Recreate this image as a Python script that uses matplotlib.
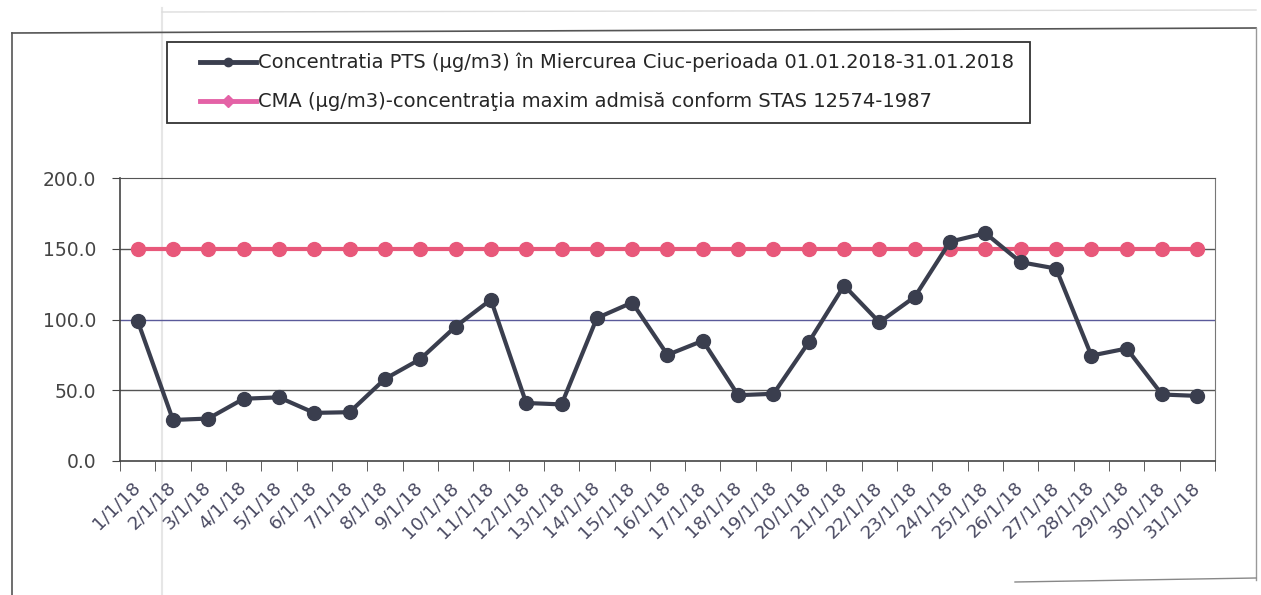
import matplotlib
matplotlib.use("Agg")
import matplotlib.pyplot as plt
from matplotlib.lines import Line2D
from matplotlib.patches import Rectangle
import numpy as np

plt.rcParams['font.family'] = ['DejaVu Sans']

days = [f"{d}/1/18" for d in range(1, 32)]
pts = [99, 29, 30, 44, 45, 34, 34.5, 58, 72, 95, 114, 41, 40, 101, 112,
       75, 85, 46.5, 47.5, 84, 124, 98, 116, 155, 161, 140.5, 136, 74.5, 79.5, 47, 46]
cma = [150] * 31
yticks = [0, 50, 100, 150, 200]
label_pts = "Concentratia PTS (µg/m3) în Miercurea Ciuc-perioada 01.01.2018-31.01.2018"
label_cma = "CMA (µg/m3)-concentraţia maxim admisă conform STAS 12574-1987"

W, H = 1261, 595
fig = plt.figure(figsize=(W / 100, H / 100), dpi=100)
fig.patch.set_facecolor('white')


def fx(px):
    return px / W


def fy(py):
    return 1 - py / H


# outer chart border
fig.add_artist(Line2D([fx(12), fx(12)], [0, fy(33)], color='#555555', lw=1.2))
fig.add_artist(Line2D([fx(12), fx(1256)], [fy(33), fy(28)], color='#555555', lw=1.2))
fig.add_artist(Line2D([fx(1256), fx(1256)], [fy(28), fy(580)], color='#999999', lw=1.0))
fig.add_artist(Line2D([fx(1015), fx(1256)], [fy(582), fy(578)], color='#888888', lw=1.0))
# faint scan edge (behind everything)
edge = Line2D([fx(162), fx(162)], [0, fy(8)], color='#e6e6e6', lw=1.5, zorder=0)
fig.add_artist(edge)
fig.add_artist(Line2D([fx(162), fx(1256)], [fy(12), fy(10)], color='#dddddd', lw=1.0, zorder=0))

ax = fig.add_axes([fx(120), fy(461), fx(1215) - fx(120), fy(178) - fy(461)])
ax.set_facecolor('none')
x = np.arange(len(days))
dark = '#3a3e4e'
pink = '#e8587a'

ax.plot(x, cma, color=pink, lw=3, marker='o', ms=10, zorder=3)
ax.plot(x, pts, color=dark, lw=3, marker='o', ms=10, zorder=4)

ax.set_xlim(-0.5, len(days) - 0.5)
ax.set_ylim(0, 200)
ax.set_yticks(yticks)
ax.set_yticklabels([f"{v:.1f}" for v in yticks], fontsize=13.5, color='#444444')
ax.set_xticks(x)
ax.set_xticklabels(days, rotation=45, ha='right', va='center', rotation_mode='anchor',
                   fontsize=13.2, color='#4a4a62')
ax.set_xticks(np.arange(-0.5, len(days), 1), minor=True)
ax.tick_params(axis='x', which='major', length=0, pad=17)
ax.tick_params(axis='x', which='minor', length=7, direction='out', color='#444444')
ax.tick_params(axis='y', length=6, direction='out', color='#444444', pad=11)

for v in [50, 150]:
    ax.axhline(v, color='#555555', lw=1.0, zorder=1)
ax.axhline(100, color='#5a5a9a', lw=1.0, zorder=1)

for s in ['left', 'bottom']:
    ax.spines[s].set_color('#444444')
    ax.spines[s].set_linewidth(1.2)
ax.spines['top'].set_color('#555555')
ax.spines['right'].set_color('#777777')

# legend (drawn manually)
fig.add_artist(Rectangle((fx(167), fy(123)), fx(1030) - fx(167), fy(42) - fy(123),
                         transform=fig.transFigure, fill=True, facecolor='white',
                         edgecolor='#333333', lw=1.3, zorder=2))
rows = [(62, dark, 'o', 6, dark, label_pts),
        (101, '#e462a6', 'D', 6, '#e462a6', label_cma)]
for yy, col, mk, ms, mcol, lab in rows:
    fig.add_artist(Line2D([fx(200), fx(256)], [fy(yy), fy(yy)], color=col, lw=3.5,
                          transform=fig.transFigure, zorder=3))
    fig.add_artist(Line2D([fx(228)], [fy(yy)], color=mcol, marker=mk, ms=ms,
                          lw=0, transform=fig.transFigure, zorder=3))
    fig.text(fx(258), fy(yy), lab, fontsize=14, color='#262626', va='center',
             ha='left', zorder=3)

fig.savefig('out.png', dpi=100, facecolor='white')
